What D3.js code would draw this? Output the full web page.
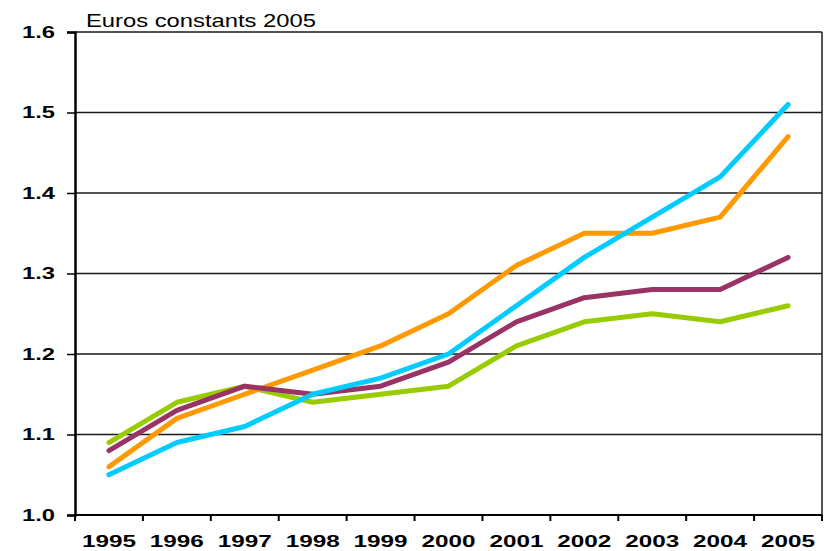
<!DOCTYPE html>
<html>
<head>
<meta charset="utf-8">
<script src="https://cdn.jsdelivr.net/npm/d3@7"></script>
<style>
  body { margin: 0; background: #fff; }
  text { font-family: "Liberation Sans", Arial, sans-serif; }
</style>
</head>
<body>
<div id="app"></div>
<script>
// years on the x axis
const years = ['1995', '1996', '1997', '1998', '1999', '2000', '2001', '2002', '2003', '2004', '2005']

// series values (euros constants 2005)
const green = [1.09, 1.14, 1.16, 1.14, 1.15, 1.16, 1.21, 1.24, 1.25, 1.24, 1.26]
const orange = [1.06, 1.12, 1.15, 1.18, 1.21, 1.25, 1.31, 1.35, 1.35, 1.37, 1.47]
const purple = [1.08, 1.13, 1.16, 1.15, 1.16, 1.19, 1.24, 1.27, 1.28, 1.28, 1.32]
const cyan = [1.05, 1.09, 1.11, 1.15, 1.17, 1.20, 1.26, 1.32, 1.37, 1.42, 1.51]

const yTicks = [1.0, 1.1, 1.2, 1.3, 1.4, 1.5, 1.6]

const series = [
  { name: 'green', values: green, color: '#99cc00' },
  { name: 'orange', values: orange, color: '#ff9900' },
  { name: 'purple', values: purple, color: '#993366' },
  { name: 'cyan', values: cyan, color: '#00ccff' }
]

const width = 825
const height = 551
const margin = { top: 32, right: 3, bottom: 36, left: 75 }

const svg = d3.create('svg')
  .attr('width', width)
  .attr('height', height)

// scales
const x = d3.scaleBand()
  .domain(years)
  .range([margin.left, width - margin.right])

const y = d3.scaleLinear()
  .domain([1.0, 1.6])
  .range([height - margin.bottom, margin.top])

// horizontal gridlines
svg.append('g')
  .selectAll('line')
  .data(yTicks.slice(1))
  .join('line')
  .attr('x1', margin.left)
  .attr('x2', width - margin.right)
  .attr('y1', (d) => y(d))
  .attr('y2', (d) => y(d))
  .attr('stroke', '#1a1a1a')
  .attr('stroke-width', 1.5)

// right border
svg.append('line')
  .attr('x1', width - margin.right)
  .attr('x2', width - margin.right)
  .attr('y1', y(1.6))
  .attr('y2', y(1.0))
  .attr('stroke', '#1a1a1a')
  .attr('stroke-width', 1.5)

// y axis
const yAxis = svg.append('g')
  .attr('transform', `translate(${margin.left},0)`)
  .call(d3.axisLeft(y).tickValues(yTicks).tickFormat(d3.format('.1f')).tickSize(8).tickPadding(12))
yAxis.select('.domain').attr('stroke', '#000').attr('stroke-width', 2.5)
yAxis.selectAll('.tick line').attr('stroke', '#000').attr('stroke-width', 1.5)
yAxis.selectAll('text')
  .attr('font-size', 17)
  .attr('font-weight', 'bold')
  .attr('fill', '#000')
  .attr('textLength', 33)
  .attr('lengthAdjust', 'spacingAndGlyphs')

// x axis: ticks between categories
const xAxis = svg.append('g')
  .attr('transform', `translate(0,${height - margin.bottom})`)
xAxis.append('line')
  .attr('x1', margin.left)
  .attr('x2', width - margin.right)
  .attr('stroke', '#000')
  .attr('stroke-width', 2)
xAxis.selectAll('line.tk')
  .data(years.concat(['end']))
  .join('line')
  .attr('class', 'tk')
  .attr('x1', (d, i) => margin.left + i * x.step())
  .attr('x2', (d, i) => margin.left + i * x.step())
  .attr('y1', 0)
  .attr('y2', 6)
  .attr('stroke', '#000')
  .attr('stroke-width', 2)
xAxis.selectAll('text')
  .data(years)
  .join('text')
  .attr('x', (d) => x(d) + x.bandwidth() / 2)
  .attr('y', 32)
  .attr('text-anchor', 'middle')
  .attr('font-size', 17)
  .attr('font-weight', 'bold')
  .attr('fill', '#000')
  .attr('textLength', 54)
  .attr('lengthAdjust', 'spacingAndGlyphs')
  .text((d) => d)

// lines
const line = d3.line()
  .x((d, i) => x(years[i]) + x.bandwidth() / 2)
  .y((d) => y(d))

svg.append('g')
  .selectAll('path')
  .data(series)
  .join('path')
  .attr('d', (d) => line(d.values))
  .attr('fill', 'none')
  .attr('stroke', (d) => d.color)
  .attr('stroke-width', 5)
  .attr('stroke-linecap', 'round')
  .attr('stroke-linejoin', 'round')

// unit label
svg.append('text')
  .attr('x', 86)
  .attr('y', 27)
  .attr('font-size', 19)
  .attr('fill', '#000')
  .attr('textLength', 230)
  .attr('lengthAdjust', 'spacingAndGlyphs')
  .text('Euros constants 2005')

d3.select('#app').append(() => svg.node())
</script>
</body>
</html>
